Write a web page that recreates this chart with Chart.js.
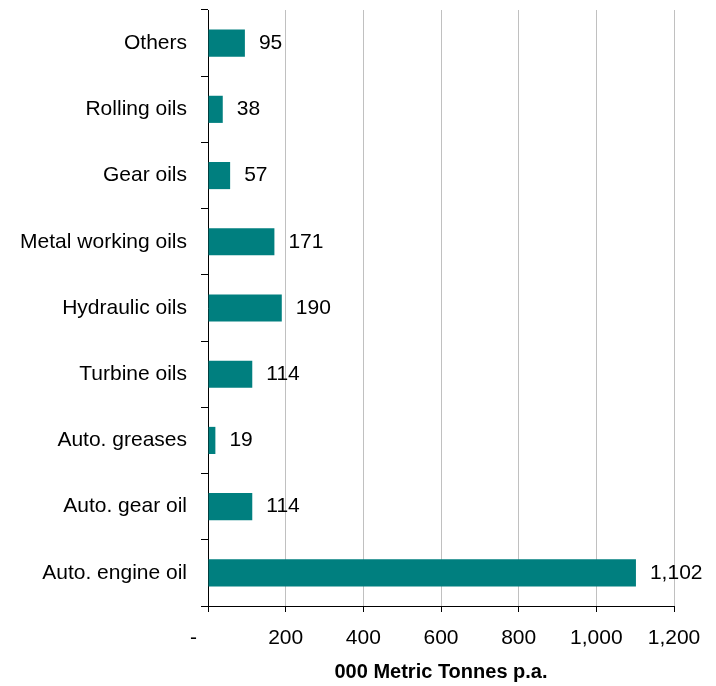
<!DOCTYPE html>
<html>
<head>
<meta charset="utf-8">
<script src="https://cdn.jsdelivr.net/npm/chart.js@4"></script>
<style>
  html, body { margin: 0; padding: 0; background: #fff; }
  #wrap { width: 716px; height: 686px; }
</style>
</head>
<body>
<div id="wrap"><canvas id="myChart" width="716" height="686"></canvas></div>
<script>
const categories = [
  'Others',
  'Rolling oils',
  'Gear oils',
  'Metal working oils',
  'Hydraulic oils',
  'Turbine oils',
  'Auto. greases',
  'Auto. gear oil',
  'Auto. engine oil',
];
const tonnes = [95, 38, 57, 171, 190, 114, 19, 114, 1102];
const xTicks = [0, 200, 400, 600, 800, 1000, 1200];

const fmt = v => (v === 0 ? '-' : v.toLocaleString('en-US'));
const FONT = '"Liberation Sans", Arial, sans-serif';

// value labels to the right of each bar
const barLabels = {
  id: 'barLabels',
  afterDatasetsDraw(chart) {
    const ctx = chart.ctx;
    const meta = chart.getDatasetMeta(0);
    ctx.save();
    ctx.font = '21px ' + FONT;
    ctx.fillStyle = '#000';
    ctx.textAlign = 'left';
    ctx.textBaseline = 'middle';
    meta.data.forEach((bar, i) => {
      ctx.fillText(fmt(tonnes[i]), bar.x + 14, bar.y);
    });
    ctx.restore();
  },
};

const config = {
  type: 'bar',
  data: {
    labels: categories,
    datasets: [
      {
        data: tonnes,
        backgroundColor: '#007f7f',
        borderWidth: 0,
        barPercentage: 0.41,
        categoryPercentage: 1,
      },
    ],
  },
  options: {
    indexAxis: 'y',
    responsive: false,
    animation: false,
    layout: { padding: { top: 10, right: 42, left: 0, bottom: 0 } },
    plugins: {
      legend: { display: false },
      tooltip: { enabled: false },
    },
    scales: {
      x: {
        min: 0,
        max: 1200,
        afterBuildTicks: scale => {
          scale.ticks = xTicks.map(v => ({ value: v }));
        },
        afterFit: scale => {
          scale.height = 80;
          scale.paddingLeft = 0;
          scale.paddingRight = 0;
        },
        grid: {
          color: '#c0c0c0',
          lineWidth: 1,
          tickColor: '#000',
          tickLength: 6,
        },
        border: { color: '#000', width: 1 },
        ticks: {
          color: '#000',
          padding: 14,
          font: { family: FONT, size: 21 },
          callback: v => (v === 0 ? '-     ' : fmt(v)),
        },
        title: {
          display: true,
          text: '000 Metric Tonnes p.a.',
          color: '#000',
          font: { family: FONT, size: 20, weight: 'bold' },
          padding: { top: 6, bottom: 2 },
        },
      },
      y: {
        afterFit: scale => {
          scale.width = 208;
          scale.paddingTop = 0;
          scale.paddingBottom = 0;
        },
        grid: {
          offset: true,
          drawOnChartArea: false,
          tickColor: '#000',
          tickLength: 7,
        },
        border: { color: '#000', width: 1 },
        ticks: {
          color: '#000',
          padding: 14,
          font: { family: FONT, size: 21 },
        },
      },
    },
  },
  plugins: [barLabels],
};

const myChart = new Chart(document.getElementById('myChart'), config);
</script>
</body>
</html>
